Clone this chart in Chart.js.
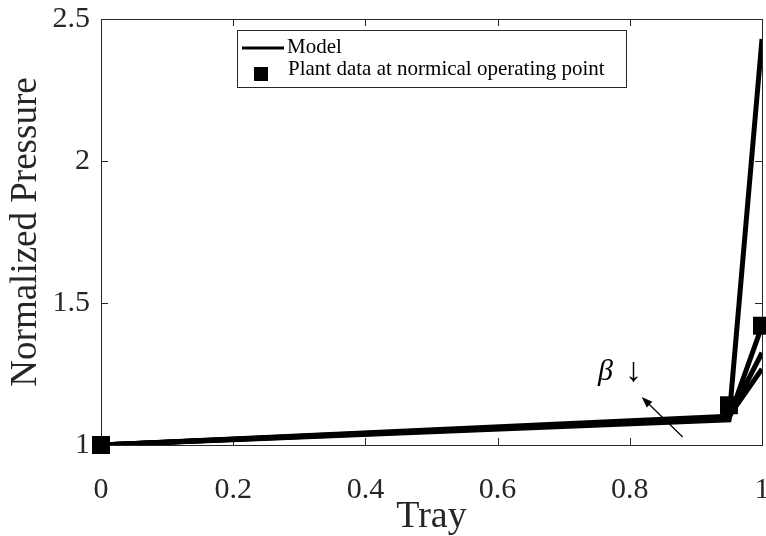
<!DOCTYPE html>
<html>
<head>
<meta charset="utf-8">
<title>Normalized Pressure vs Tray</title>
<script src="https://cdn.jsdelivr.net/npm/chart.js@4.4.0/dist/chart.umd.min.js"></script>
<style>
  html, body { margin: 0; padding: 0; background: #fff; }
  #wrap { width: 766px; height: 536px; }
</style>
</head>
<body>
<div id="wrap"><canvas id="pressureChart" width="766" height="536"></canvas></div>
<script>
// --- data ---
const trayPos = [0, 0.95, 1];
const modelBeta1 = [1, 1.089, 2.43];
const modelBeta2 = [1, 1.093, 1.42];
const modelBeta3 = [1, 1.097, 1.325];
const modelBeta4 = [1, 1.101, 1.268];
const plantTray = [0, 0.95, 1];
const plantPressure = [1, 1.14, 1.42];
const xTicks = [0, 0.2, 0.4, 0.6, 0.8, 1];
const yTicks = [1, 1.5, 2, 2.5];

// annotation: arrow tail/head and label spot, in data units
const arrowFrom = [0.880, 1.028];
const arrowTo = [0.818, 1.169];
const betaAt = [0.782, 1.257];

const SERIF = '"Liberation Serif", "Times New Roman", serif';
const AXIS = '#262626';

function toPoints(xs, ys) {
    return xs.map((x, i) => ({ x: x, y: ys[i] }));
}

function modelSet(ys) {
    return {
        label: 'Model',
        data: toPoints(trayPos, ys),
        showLine: true,
        borderColor: '#000',
        backgroundColor: '#000',
        borderWidth: 5,
        pointRadius: 0,
        tension: 0
    };
}

// box round the axes with inward ticks, like the original figure
const axesBox = {
    id: 'axesBox',
    beforeDatasetsDraw(chart) {
        const { ctx, chartArea: a, scales: { x, y } } = chart;
        ctx.save();
        ctx.strokeStyle = AXIS;
        ctx.lineWidth = 1;
        ctx.strokeRect(a.left + 0.5, a.top + 0.5, a.right - a.left, a.bottom - a.top);
        ctx.beginPath();
        xTicks.forEach(v => {
            const px = Math.round(x.getPixelForValue(v)) + 0.5;
            ctx.moveTo(px, a.bottom); ctx.lineTo(px, a.bottom - 7);
            ctx.moveTo(px, a.top); ctx.lineTo(px, a.top + 7);
        });
        yTicks.forEach(v => {
            const py = Math.round(y.getPixelForValue(v)) + 0.5;
            ctx.moveTo(a.left, py); ctx.lineTo(a.left + 7, py);
            ctx.moveTo(a.right, py); ctx.lineTo(a.right - 7, py);
        });
        ctx.stroke();
        ctx.restore();
    }
};

// legend box, arrow and beta label
const extras = {
    id: 'extras',
    afterDraw(chart) {
        const { ctx, scales: { x, y } } = chart;
        ctx.save();

        // arrow
        const x0 = x.getPixelForValue(arrowFrom[0]), y0 = y.getPixelForValue(arrowFrom[1]);
        const x1 = x.getPixelForValue(arrowTo[0]), y1 = y.getPixelForValue(arrowTo[1]);
        const ang = Math.atan2(y1 - y0, x1 - x0);
        ctx.strokeStyle = '#000';
        ctx.fillStyle = '#000';
        ctx.lineWidth = 1.2;
        ctx.beginPath();
        ctx.moveTo(x0, y0);
        ctx.lineTo(x1 - 6 * Math.cos(ang), y1 - 6 * Math.sin(ang));
        ctx.stroke();
        ctx.beginPath();
        ctx.moveTo(x1, y1);
        ctx.lineTo(x1 - 11 * Math.cos(ang) + 4 * Math.sin(ang), y1 - 11 * Math.sin(ang) - 4 * Math.cos(ang));
        ctx.lineTo(x1 - 11 * Math.cos(ang) - 4 * Math.sin(ang), y1 - 11 * Math.sin(ang) + 4 * Math.cos(ang));
        ctx.closePath();
        ctx.fill();

        // beta label
        const bx = x.getPixelForValue(betaAt[0]), by = y.getPixelForValue(betaAt[1]);
        ctx.textBaseline = 'middle';
        ctx.textAlign = 'right';
        ctx.font = 'italic 30px ' + SERIF;
        ctx.fillText('β', bx - 5, by);
        ctx.textAlign = 'left';
        ctx.font = '34px ' + SERIF;
        ctx.fillText('↓', bx + 7, by);

        // legend
        ctx.fillStyle = '#fff';
        ctx.fillRect(237, 30, 389, 57);
        ctx.strokeStyle = AXIS;
        ctx.lineWidth = 1;
        ctx.strokeRect(237.5, 30.5, 389, 57);
        ctx.strokeStyle = '#000';
        ctx.lineWidth = 3;
        ctx.beginPath();
        ctx.moveTo(242, 48);
        ctx.lineTo(284, 48);
        ctx.stroke();
        ctx.fillStyle = '#000';
        ctx.fillRect(254, 67, 14, 14);
        ctx.font = '21px ' + SERIF;
        ctx.textAlign = 'left';
        ctx.textBaseline = 'alphabetic';
        ctx.fillText('Model', 287, 53);
        ctx.fillText('Plant data at normical operating point', 288, 75);

        ctx.restore();
    }
};

new Chart(document.getElementById('pressureChart'), {
    type: 'scatter',
    data: {
        datasets: [
            {
                label: 'Plant data at normical operating point',
                data: toPoints(plantTray, plantPressure),
                showLine: false,
                pointStyle: 'rect',
                pointRadius: 12.7,
                pointBorderWidth: 0,
                backgroundColor: '#000',
                borderColor: '#000',
                clip: false
            },
            modelSet(modelBeta1),
            modelSet(modelBeta2),
            modelSet(modelBeta3),
            modelSet(modelBeta4)
        ]
    },
    options: {
        responsive: false,
        animation: false,
        events: [],
        layout: { autoPadding: false, padding: { top: 19, right: 4, left: 0, bottom: 0 } },
        plugins: {
            legend: { display: false },
            tooltip: { enabled: false }
        },
        scales: {
            x: {
                type: 'linear',
                min: 0,
                max: 1,
                afterBuildTicks: s => { s.ticks = xTicks.map(v => ({ value: v })); },
                afterFit: s => { s.height = 91; s.paddingLeft = 0; s.paddingRight = 0; },
                grid: { display: false, drawTicks: false },
                border: { display: false },
                ticks: {
                    padding: 27,
                    maxRotation: 0,
                    color: AXIS,
                    font: { family: SERIF, size: 30 },
                    callback: v => String(v)
                },
                title: {
                    display: true,
                    text: 'Tray',
                    color: AXIS,
                    padding: { top: 0, bottom: 0 },
                    font: { family: SERIF, size: 38, lineHeight: 1 }
                }
            },
            y: {
                type: 'linear',
                min: 1,
                max: 2.5,
                afterBuildTicks: s => { s.ticks = yTicks.map(v => ({ value: v })); },
                afterFit: s => { s.width = 101; s.paddingTop = 0; s.paddingBottom = 0; },
                grid: { display: false, drawTicks: false },
                border: { display: false },
                ticks: {
                    padding: 11,
                    color: AXIS,
                    font: { family: SERIF, size: 30 },
                    callback: v => String(v)
                },
                title: {
                    display: true,
                    text: 'Normalized Pressure',
                    color: AXIS,
                    padding: { top: 8, bottom: 0 },
                    font: { family: SERIF, size: 37, lineHeight: 1 }
                }
            }
        }
    },
    plugins: [axesBox, extras]
});
</script>
</body>
</html>
